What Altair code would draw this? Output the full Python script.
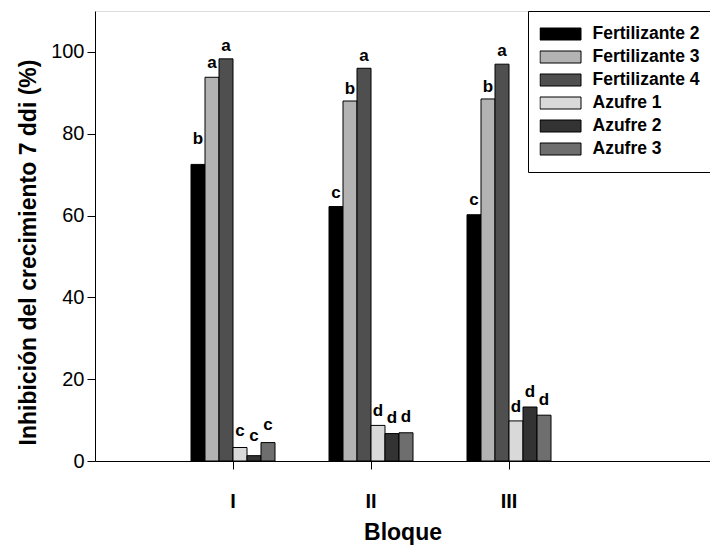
import altair as alt
import pandas as pd

bloques = ["I", "II", "III"]
tratamientos = ["Fertilizante 2", "Fertilizante 3", "Fertilizante 4",
                "Azufre 1", "Azufre 2", "Azufre 3"]
colores = ["#000000", "#b3b3b3", "#4f4f4f", "#d9d9d9", "#333333", "#6e6e6e"]

valores_I = [72.5, 93.8, 98.3, 3.3, 1.3, 4.5]
valores_II = [62.2, 88.0, 96.0, 8.7, 6.7, 6.9]
valores_III = [60.2, 88.5, 97.0, 9.8, 13.2, 11.2]

letras_I = ["b", "a", "a", "c", "c", "c"]
letras_II = ["c", "b", "a", "d", "d", "d"]
letras_III = ["c", "b", "a", "d", "d", "d"]

altura_letra_I = [77.5, 96.0, 100.2, 6.2, 4.8, 7.5]
altura_letra_II = [64.2, 89.8, 97.9, 11.0, 9.3, 9.5]
altura_letra_III = [62.5, 90.3, 98.9, 12.0, 15.6, 13.7]

filas = []
for b, vals, lets, alts in zip(bloques,
                               [valores_I, valores_II, valores_III],
                               [letras_I, letras_II, letras_III],
                               [altura_letra_I, altura_letra_II, altura_letra_III]):
    for t, v, l, h in zip(tratamientos, vals, lets, alts):
        filas.append({"Bloque": b, "Tratamiento": t, "valor": v, "letra": l, "altura": h})
df = pd.DataFrame(filas)

FONT = "Liberation Sans"
YTITLE = "Inhibición del crecimiento 7 ddi (%)"

x_enc = alt.X(
    "Bloque:N", sort=bloques,
    scale=alt.Scale(paddingInner=0.3913, paddingOuter=0.9239, align=0.3765),
    axis=alt.Axis(title="Bloque", labelAngle=0, labelFont=FONT, labelFontSize=20,
                  labelFontWeight="bold", labelColor="black", labelPadding=22,
                  tickSize=8, tickColor="black", domainColor="black",
                  titleFont=FONT, titleFontSize=23, titleFontWeight="bold",
                  titleColor="black", titlePadding=10),
)
xo_enc = alt.XOffset("Tratamiento:N", sort=tratamientos,
                     scale=alt.Scale(paddingInner=0, paddingOuter=0))
y_axis = alt.Axis(values=[0, 20, 40, 60, 80, 100], grid=False, labelFont=FONT,
                  labelFontSize=20, labelColor="black", labelPadding=3,
                  tickSize=8, tickColor="black", domainColor="black",
                  titleFont=FONT, titleFontSize=23, titleFontWeight="bold",
                  titleColor="black", titlePadding=10, titleY=241)
y_scale = alt.Scale(domain=[0, 110], nice=False, zero=True)

color_enc = alt.Color(
    "Tratamiento:N", sort=tratamientos,
    scale=alt.Scale(domain=tratamientos, range=colores),
    legend=alt.Legend(orient="none", legendX=433, legendY=0, title=None,
                      symbolType="M-1,-0.2927H1V0.2927H-1Z", symbolSize=1681,
                      symbolStrokeColor="black", symbolStrokeWidth=1,
                      symbolOpacity=1,
                      labelFont=FONT, labelFontWeight="bold", labelFontSize=17.5,
                      labelColor="black", labelOffset=11, clipHeight=23,
                      rowPadding=0, padding=11.5, strokeColor="black",
                      fillColor="white", cornerRadius=0),
)

barras = alt.Chart(df).mark_bar(stroke="black", strokeWidth=1, opacity=1).encode(
    x=x_enc, xOffset=xo_enc,
    y=alt.Y("valor:Q", scale=y_scale, axis=y_axis, title=YTITLE),
    color=color_enc,
)

letras = alt.Chart(df).mark_text(font=FONT, fontWeight="bold", fontSize=17,
                                 baseline="alphabetic", color="black").encode(
    x=x_enc, xOffset=xo_enc,
    y=alt.Y("altura:Q", scale=y_scale, axis=y_axis, title=YTITLE),
    text="letra:N",
)

chart = alt.layer(barras, letras).properties(
    width=615, height=450,
    padding={"left": 95, "top": 11, "right": 0, "bottom": 87},
    autosize=alt.AutoSizeParams(type="none"),
).configure_view(stroke="black", strokeWidth=1).configure(background="white")

chart.save("out.html", embed_options={"renderer": "svg", "actions": False})
